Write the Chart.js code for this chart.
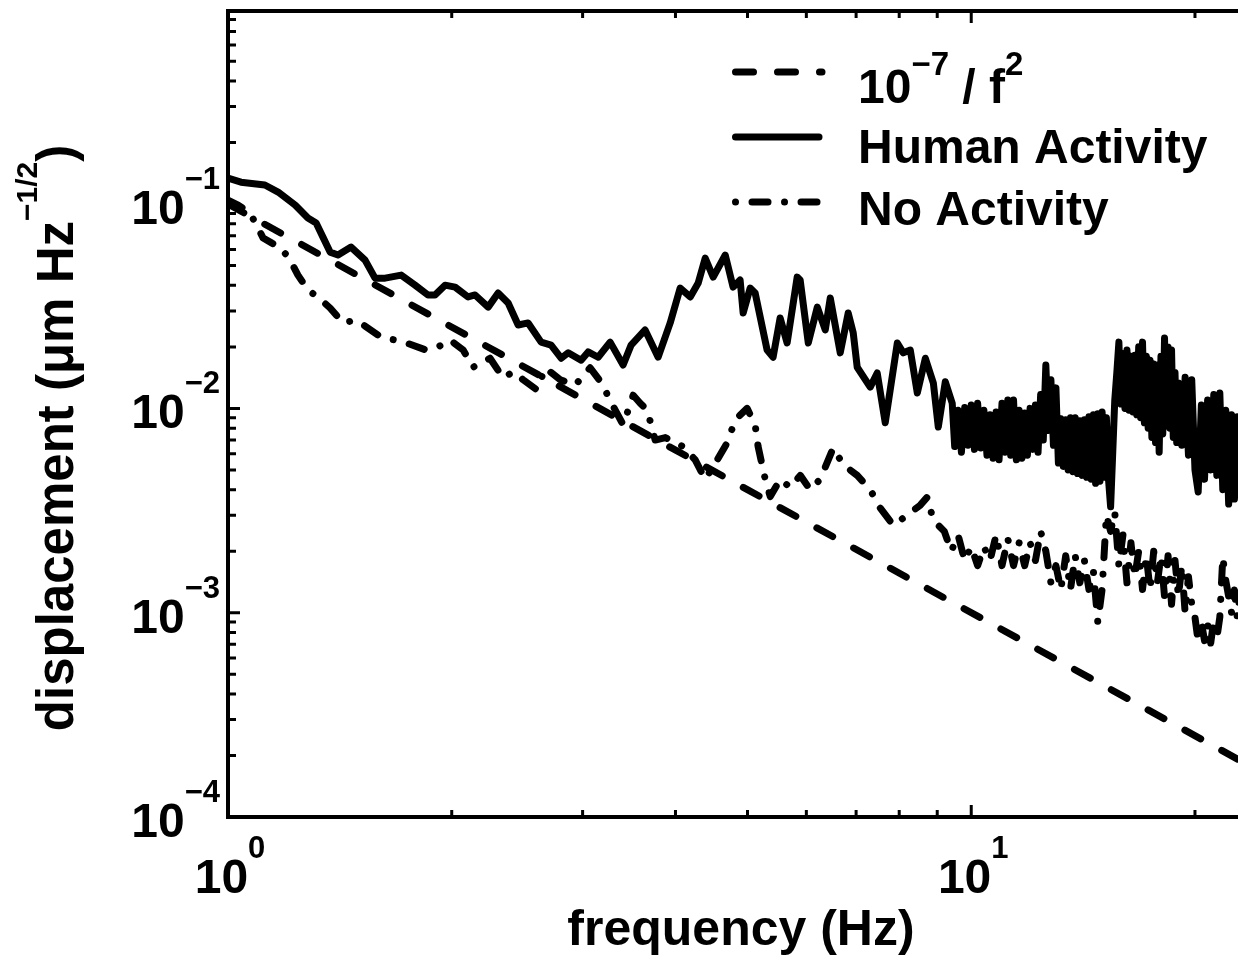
<!DOCTYPE html>
<html lang="pt-BR">
<head>
<meta charset="utf-8">
<title>Deslocamento x frequência</title>
<script src="https://cdn.jsdelivr.net/npm/chart.js"></script>
<style>
  html, body { margin: 0; padding: 0; background: #fff; overflow: hidden; }
  #grafico { display: block; }
</style>
</head>
<body>
<canvas id="grafico" width="1300" height="956"></canvas>
<script>
// Dados: frequência (Hz) e deslocamento (µm Hz^-1/2)

// Reta de referência 10^-7 / f^2
const freqRef = [1, 25];
const dispRef = [0.1, 0.00016];

// Curva "Human Activity"
const freqHumana = [
    1.000, 1.041, 1.121, 1.168, 1.231, 1.281, 1.314, 1.342, 1.372, 1.406,
    1.464, 1.529, 1.577, 1.627, 1.710, 1.785, 1.858, 1.899, 1.959, 2.021,
    2.104, 2.150, 2.239, 2.309, 2.382, 2.457, 2.534, 2.638, 2.721, 2.807,
    2.869, 2.986, 3.052, 3.148, 3.267, 3.401, 3.486, 3.641, 3.791, 3.935,
    4.059, 4.187, 4.292, 4.386, 4.496, 4.667, 4.782, 4.887, 4.933, 5.041,
    5.120, 5.313, 5.413, 5.532, 5.653, 5.832, 5.886, 6.036, 6.207, 6.362,
    6.461, 6.664, 6.831, 6.938, 7.024, 7.313, 7.473, 7.661, 7.953, 8.102,
    8.279, 8.461, 8.675, 8.893, 9.030, 9.228, 9.428,
    9.5, 9.6, 9.7, 9.8, 9.9, 10.0, 10.1, 10.2, 10.3, 10.4,
    10.5, 10.6, 10.7, 10.8, 10.9, 11.0, 11.1, 11.2, 11.3, 11.4,
    11.5, 11.6, 11.7, 11.8, 11.9, 12.0, 12.1, 12.2, 12.3, 12.4,
    12.5, 12.6, 12.7, 12.8, 12.9, 13.0,
    13.1, 13.2, 13.3, 13.4, 13.5, 13.6, 13.7, 13.8, 13.9, 14.0,
    14.1, 14.2, 14.3, 14.4, 14.5, 14.6, 14.7, 14.8, 14.9, 15.0,
    15.1, 15.2, 15.3, 15.4,
    15.5, 15.6, 15.7, 15.8, 15.9, 16.0, 16.1, 16.2, 16.3, 16.4,
    16.5, 16.6, 16.7, 16.8, 16.9, 17.0, 17.1, 17.2, 17.3, 17.4,
    17.5, 17.6, 17.7, 17.8, 17.9, 18.0, 18.1, 18.2, 18.3, 18.4,
    18.5, 18.6, 18.7, 18.8, 18.9, 19.0,
    19.2, 19.4, 19.6, 19.8, 20.0, 20.2, 20.4, 20.6, 20.8, 21.0,
    21.2, 21.4, 21.6, 21.8, 22.0, 22.2, 22.4, 22.6, 22.8, 23.0,
    23.5, 24.0, 24.5, 25.0
];
const dispHumana = [
    0.134, 0.128, 0.124, 0.1145, 0.099, 0.0854, 0.0807, 0.0689, 0.0582, 0.0563,
    0.0616, 0.0532, 0.0434, 0.0434, 0.0449, 0.0401, 0.0359, 0.0359, 0.0401, 0.0392,
    0.0351, 0.0359, 0.0313, 0.0367, 0.0328, 0.0256, 0.0262, 0.0211, 0.0204, 0.0176,
    0.0187, 0.0172, 0.0189, 0.0178, 0.0211, 0.0163, 0.0204, 0.0242, 0.0178, 0.0262,
    0.0388, 0.0351, 0.0411, 0.0544, 0.0439, 0.0563, 0.0392, 0.0425, 0.0293, 0.0388,
    0.0367, 0.0193, 0.0178, 0.0277, 0.0209, 0.0439, 0.0425, 0.0209, 0.0313, 0.0242,
    0.0347, 0.0187, 0.0293, 0.0234, 0.0159, 0.0127, 0.0149, 0.0085, 0.0209, 0.0187,
    0.0193, 0.0119, 0.0176, 0.0133, 0.0081, 0.0135, 0.0106,
    0.0065, 0.0098, 0.0061, 0.0101, 0.0066, 0.0104, 0.0063, 0.0106, 0.0064, 0.0098,
    0.0059, 0.0093, 0.0057, 0.0096, 0.0056, 0.0106, 0.0061, 0.0110, 0.0059, 0.0110,
    0.0056, 0.0098, 0.0057, 0.0095, 0.0059, 0.0100, 0.0063, 0.0104, 0.0061, 0.0117,
    0.0070, 0.0163, 0.0078, 0.0138, 0.0066, 0.0126,
    0.0054, 0.0089, 0.0052, 0.0088, 0.0050, 0.0090, 0.0049, 0.0090, 0.0048, 0.0087,
    0.0047, 0.0088, 0.0046, 0.0091, 0.0045, 0.0093, 0.0043, 0.0094, 0.0044, 0.0096,
    0.0046, 0.0090, 0.0045, 0.0033,
    0.0060, 0.0110, 0.0150, 0.0211, 0.0105, 0.0185, 0.0100, 0.0193, 0.0098, 0.0180,
    0.0096, 0.0182, 0.0093, 0.0200, 0.0090, 0.0211, 0.0085, 0.0180, 0.0080, 0.0172,
    0.0072, 0.0165, 0.0068, 0.0163, 0.0061, 0.0180, 0.0075, 0.0221, 0.0085, 0.0200,
    0.0080, 0.0193, 0.0072, 0.0150, 0.0068, 0.0133,
    0.0066, 0.0142, 0.0059, 0.0138, 0.0050, 0.0039, 0.0104, 0.0045, 0.0110, 0.0050,
    0.0117, 0.0047, 0.0119, 0.0040, 0.0098, 0.0034, 0.0093, 0.0036, 0.0091, 0.0038,
    0.0088, 0.0045, 0.0088, 0.0050
];

// Curva "No Activity"
const freqSemAtividade = [
    1.000, 1.032, 1.071, 1.115, 1.146, 1.179, 1.212, 1.242, 1.281, 1.321,
    1.372, 1.428, 1.482, 1.529, 1.607, 1.678, 1.758, 1.847, 1.917, 1.990,
    2.072, 2.137, 2.252, 2.345, 2.419, 2.495, 2.605, 2.671, 2.799, 2.932,
    3.071, 3.197, 3.247, 3.319, 3.402, 3.509, 3.586, 3.665, 3.756, 3.876,
    4.097, 4.252, 4.386, 4.553, 4.696, 4.814, 4.994, 5.120, 5.167, 5.282,
    5.365, 5.534, 5.708, 5.888, 6.073, 6.264, 6.521, 6.727, 7.024, 7.313,
    7.544, 7.853, 8.202, 8.539, 8.726, 8.890,
    9.2, 9.4, 9.6, 9.8, 10.0, 10.2, 10.4, 10.6, 10.8, 11.0,
    11.2, 11.4, 11.6, 11.8, 12.0, 12.2, 12.4, 12.6, 12.8, 13.0,
    13.2, 13.4, 13.6, 13.8, 14.0, 14.2, 14.4, 14.6, 14.8, 15.0,
    15.2, 15.4, 15.6, 15.8, 16.0, 16.2, 16.4, 16.6, 16.8, 17.0,
    17.2, 17.4, 17.6, 17.8, 18.0, 18.2, 18.4, 18.6, 18.8, 19.0,
    19.2, 19.4, 19.6, 19.8, 20.0, 20.2, 20.4, 20.6, 20.8, 21.0,
    21.2, 21.4, 21.6, 21.8, 22.0, 22.2, 22.4, 22.6, 22.8, 23.0,
    23.5, 24.0, 24.5, 25.0
];
const dispSemAtividade = [
    0.1046, 0.0989, 0.0904, 0.0682, 0.0644, 0.0609, 0.0532, 0.0449, 0.0379, 0.0351,
    0.0310, 0.0262, 0.0270, 0.0253, 0.0223, 0.0216, 0.0206, 0.0193, 0.0200, 0.0216,
    0.0193, 0.0159, 0.0176, 0.0141, 0.0151, 0.0138, 0.0123, 0.0158, 0.0138, 0.0130,
    0.0158, 0.0130, 0.0114, 0.0098, 0.0083, 0.0116, 0.0106, 0.0098, 0.0070, 0.0072,
    0.0065, 0.0056, 0.0045, 0.0056, 0.0068, 0.0088, 0.0100, 0.0083, 0.0065, 0.0045,
    0.0037, 0.0045, 0.0041, 0.0047, 0.0040, 0.0045, 0.0064, 0.0053, 0.0047, 0.0040,
    0.00325, 0.00268, 0.00300, 0.00336, 0.00368, 0.00284,
    0.0025, 0.0020, 0.0024, 0.0018, 0.0021, 0.0017, 0.0021, 0.0018, 0.0024, 0.0017,
    0.0023, 0.0017, 0.0022, 0.0017, 0.0022, 0.0018, 0.0025, 0.0020, 0.0014, 0.0017,
    0.0013, 0.0019, 0.0013, 0.0019, 0.0014, 0.0018, 0.0013, 0.0016, 0.0009, 0.0013,
    0.0030, 0.0025, 0.0031, 0.0017, 0.0024, 0.0014, 0.0022, 0.0015, 0.0020, 0.0013,
    0.0019, 0.0013, 0.0020, 0.0014, 0.0019, 0.0012, 0.0019, 0.0011, 0.0018, 0.0012,
    0.0017, 0.0010, 0.0015, 0.0011, 0.00095, 0.00072, 0.00090, 0.00073, 0.00088, 0.00071,
    0.00092, 0.00075, 0.00095, 0.00187, 0.00144, 0.00120, 0.00100, 0.00129, 0.00095, 0.00125,
    0.0011, 0.0013, 0.0011, 0.0012
];

// Marcas principais dos eixos e seus expoentes
const ticksX = [1, 10];
const expoentesX = ['0', '1'];
const ticksY = [1e-4, 1e-3, 1e-2, 1e-1];
const expoentesY = ['\u22124', '\u22123', '\u22122', '\u22121'];

const fonte = "'Liberation Sans', Arial, Helvetica, sans-serif";

// Escreve texto com partes sobrescritas: [texto, tamanho, elevação]
function textoRico(ctx, partes, x, y, alinhamento) {
    let largura = 0;
    partes.forEach(p => {
        ctx.font = 'bold ' + p[1] + 'px ' + fonte;
        largura += ctx.measureText(p[0]).width;
    });
    let cx = x;
    if (alinhamento === 'right') cx = x - largura;
    if (alinhamento === 'center') cx = x - largura / 2;
    ctx.textAlign = 'left';
    ctx.textBaseline = 'alphabetic';
    partes.forEach(p => {
        ctx.font = 'bold ' + p[1] + 'px ' + fonte;
        ctx.fillText(p[0], cx, y - p[2]);
        cx += ctx.measureText(p[0]).width;
    });
}

// Moldura, marcas internas, rótulos e legenda
const moldura = {
    id: 'moldura',
    afterDraw(chart) {
        const ctx = chart.ctx;
        const a = chart.chartArea;
        const x = chart.scales.x;
        const y = chart.scales.y;
        ctx.save();
        ctx.fillStyle = '#000';
        ctx.strokeStyle = '#000';
        ctx.lineCap = 'butt';
        ctx.setLineDash([]);

        // marcas do eixo x (embaixo e em cima)
        ctx.lineWidth = 3;
        for (let d = 1; d <= 10; d *= 10) {
            for (let m = 1; m <= 9; m++) {
                const v = m * d;
                if (v < x.min || v > x.max) continue;
                const px = x.getPixelForValue(v);
                const tam = m === 1 ? 12 : 7;
                ctx.beginPath();
                ctx.moveTo(px, a.bottom); ctx.lineTo(px, a.bottom - tam);
                ctx.moveTo(px, a.top); ctx.lineTo(px, a.top + tam);
                ctx.stroke();
            }
        }
        // marcas do eixo y (esquerda e direita)
        for (let d = 1e-4; d < 1; d *= 10) {
            for (let m = 1; m <= 9; m++) {
                const v = m * d;
                if (v < y.min * 0.999 || v > y.max) continue;
                const py = y.getPixelForValue(v);
                const tam = m === 1 ? 12 : 8;
                ctx.beginPath();
                ctx.moveTo(a.left, py); ctx.lineTo(a.left + tam, py);
                ctx.moveTo(a.right, py); ctx.lineTo(a.right - tam, py);
                ctx.stroke();
            }
        }

        ctx.lineWidth = 4;
        ctx.strokeRect(a.left, a.top, a.right - a.left, a.bottom - a.top);

        // rótulos dos eixos
        ticksX.forEach((v, i) => {
            const px = x.getPixelForValue(v);
            textoRico(ctx, [['10', 48, 0], [expoentesX[i], 31, 35]], px + 2, 893, 'center');
        });
        ticksY.forEach((v, i) => {
            const py = y.getPixelForValue(v);
            textoRico(ctx, [['10', 48, 0], [expoentesY[i], 31, 35]], 220, py + 20, 'right');
        });

        // títulos
        textoRico(ctx, [['frequency (Hz)', 50, 0]], 741, 945, 'center');
        ctx.save();
        ctx.translate(73, 438);
        ctx.rotate(-Math.PI / 2);
        textoRico(ctx, [['displacement (\u03bcm Hz', 51, 0], ['\u22121/2', 30, 36], [')', 51, 0]], 0, 0, 'center');
        ctx.restore();

        // legenda
        ctx.lineWidth = 7;
        ctx.lineCap = 'round';
        const amostras = [
            { y: 72, dash: [18, 24] },
            { y: 137, dash: [] },
            { y: 202, dash: [0.01, 16.5, 16, 16.5] }
        ];
        amostras.forEach(s => {
            ctx.setLineDash(s.dash);
            ctx.beginPath();
            ctx.moveTo(735.5, s.y);
            ctx.lineTo(s.dash.length ? 822 : 819, s.y);
            ctx.stroke();
        });
        ctx.setLineDash([]);
        textoRico(ctx, [['10', 48, 0], ['\u22127', 33, 28], [' / f', 48, 0], ['2', 33, 28]], 858, 103, 'left');
        textoRico(ctx, [['Human Activity', 48, 0]], 858, 163, 'left');
        textoRico(ctx, [['No Activity', 48, 0]], 858, 225, 'left');
        ctx.restore();
    }
};

function pontos(fs, vs) {
    return fs.map((f, i) => ({ x: f, y: vs[i] }));
}

const ctxGrafico = document.getElementById('grafico').getContext('2d');
const grafico = new Chart(ctxGrafico, {
    type: 'line',
    data: {
        datasets: [{
            label: '10^-7/ f^2',
            data: pontos(freqRef, dispRef),
            borderColor: '#000',
            borderWidth: 7,
            borderDash: [18, 24],
            borderCapStyle: 'round',
            pointRadius: 0,
            fill: false
        }, {
            label: 'Human Activity',
            data: pontos(freqHumana, dispHumana),
            borderColor: '#000',
            borderWidth: 7,
            borderCapStyle: 'round',
            borderJoinStyle: 'round',
            pointRadius: 0,
            fill: false
        }, {
            label: 'No Activity',
            data: pontos(freqSemAtividade, dispSemAtividade),
            borderColor: '#000',
            borderWidth: 7,
            borderDash: [16, 16.5, 0.01, 16.5],
            borderCapStyle: 'round',
            borderJoinStyle: 'round',
            pointRadius: 0,
            fill: false
        }]
    },
    options: {
        responsive: false,
        animation: false,
        devicePixelRatio: 1,
        events: [],
        layout: { padding: { left: 228, top: 11, right: 33, bottom: 139 } },
        scales: {
            x: { type: 'logarithmic', min: 1, max: 25, bounds: 'data', display: false },
            y: { type: 'logarithmic', min: 1e-4, max: 0.881, bounds: 'data', display: false }
        },
        plugins: {
            legend: { display: false },
            tooltip: { enabled: false }
        }
    },
    plugins: [moldura]
});
</script>
</body>
</html>
